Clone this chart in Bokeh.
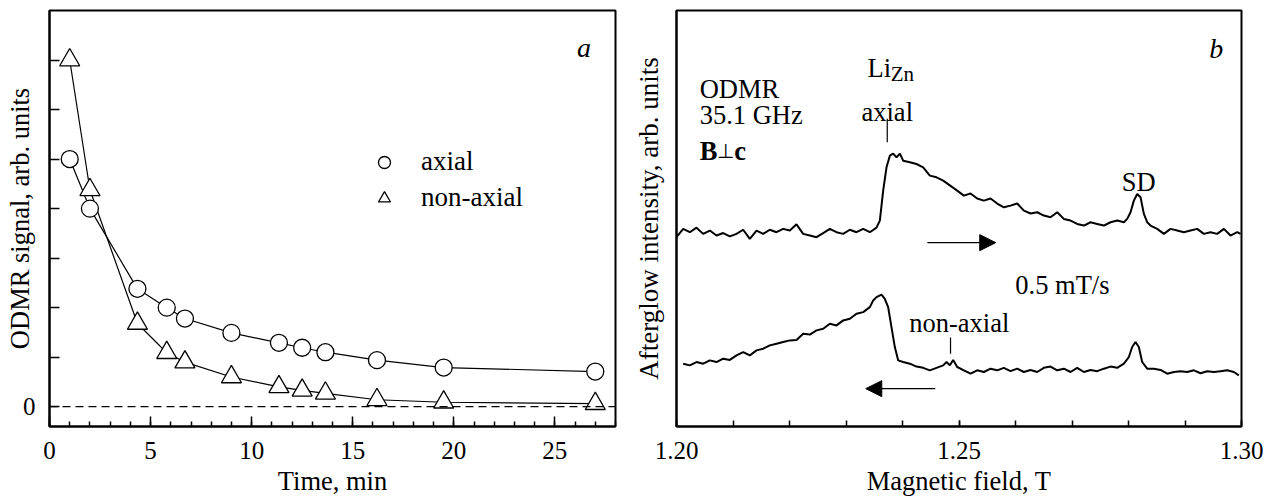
from bokeh.plotting import figure
from bokeh.layouts import row
from bokeh.models import (Range1d, FixedTicker, Span, Label, Arrow, NormalHead,
                          Legend, LegendItem, NumeralTickFormatter)
from bokeh.embed import file_html
from bokeh.resources import INLINE

FONT = "Liberation Serif"

# ---------------- panel a data ----------------
time_min = [1.0, 2.0, 4.35, 5.8, 6.7, 9.0, 11.35, 12.5, 13.65, 16.2, 19.5, 27.0]
axial = [5.0, 4.0, 2.38, 2.0, 1.78, 1.49, 1.29, 1.19, 1.10, 0.94, 0.79, 0.71]
non_axial = [7.0, 4.38, 1.68, 1.09, 0.90, 0.60, 0.40, 0.33, 0.27, 0.14, 0.09, 0.06]
time_ticks = [0, 5, 10, 15, 20, 25]
time_minor = list(range(0, 29))
signal_ticks = [0, 1, 2, 3, 4, 5, 6, 7]

# ---------------- panel b data (field in mT, intensity arb. units) ----------------
up_field = [1200.00, 1201.18, 1202.36, 1203.54, 1204.72, 1205.90, 1207.08, 1208.26, 1209.44, 1210.62,
            1211.80, 1212.98, 1214.16, 1215.34, 1216.52, 1217.70, 1218.88, 1220.06, 1221.24, 1222.42,
            1223.60, 1224.78, 1225.96, 1227.14, 1228.32, 1229.50, 1230.68, 1231.86, 1233.04, 1234.22,
            1235.40, 1235.99, 1236.58, 1237.17, 1237.76, 1238.35, 1238.94, 1239.53, 1240.12, 1241.30,
            1242.48, 1243.66, 1244.84, 1246.02, 1247.20, 1249.68, 1250.86, 1252.04, 1253.22, 1254.40,
            1255.58, 1256.76, 1257.94, 1259.12, 1260.30, 1261.48, 1262.66, 1263.84, 1265.02, 1266.20,
            1267.38, 1268.56, 1269.74, 1270.92, 1272.10, 1273.28, 1274.46, 1275.64, 1276.82, 1278.00,
            1279.18, 1279.77, 1280.36, 1280.95, 1281.54, 1282.13, 1282.72, 1283.31, 1283.90, 1285.08,
            1286.26, 1287.44, 1288.62, 1289.80, 1290.98, 1292.16, 1293.34, 1294.52, 1295.70, 1296.88,
            1298.06, 1299.24, 1299.83]
up_int = [45.5, 47.5, 46.7, 47.8, 46.3, 47.1, 45.9, 46.5, 45.7, 46.3,
          47.3, 45.1, 47.1, 46.3, 47.3, 46.7, 47.5, 47.1, 48.6, 46.3,
          45.9, 45.5, 46.5, 47.5, 46.7, 46.3, 47.3, 46.7, 47.5, 46.7,
          47.8, 49.5, 56.7, 62.3, 65.1, 65.6, 64.7, 65.6, 63.9, 63.5,
          63.1, 62.3, 60.3, 59.9, 59.1, 56.7, 55.5, 56.0, 54.8, 54.3,
          54.8, 53.6, 52.7, 53.1, 53.6, 51.9, 51.2, 51.5, 50.7, 50.3,
          51.5, 49.9, 49.5, 48.7, 48.3, 49.1, 48.7, 48.3, 49.1, 49.5,
          49.1, 49.9, 51.5, 54.3, 55.9, 55.1, 51.1, 49.1, 48.3, 47.5,
          46.3, 47.5, 47.1, 46.7, 47.1, 47.5, 46.3, 46.7, 46.3, 47.5,
          45.9, 46.7, 46.3]

low_field = [1201.18, 1202.36, 1203.54, 1204.72, 1205.90, 1207.08, 1208.26, 1209.44, 1210.62, 1211.80,
             1212.98, 1214.16, 1215.34, 1216.52, 1217.70, 1218.88, 1220.06, 1221.24, 1222.42, 1223.60,
             1224.78, 1225.96, 1227.14, 1228.32, 1229.50, 1230.68, 1231.86, 1233.04, 1234.22, 1234.81,
             1235.40, 1236.28, 1236.87, 1237.46, 1238.05, 1238.64, 1239.23, 1240.12, 1241.30, 1242.48,
             1243.66, 1244.84, 1246.02, 1247.20, 1247.79, 1248.38, 1248.97, 1249.68, 1250.86, 1252.04,
             1253.22, 1254.40, 1255.58, 1256.76, 1257.94, 1259.12, 1260.30, 1261.48, 1262.66, 1263.84,
             1265.02, 1266.20, 1267.38, 1268.56, 1269.74, 1270.92, 1272.10, 1273.28, 1274.46, 1275.64,
             1276.82, 1278.00, 1279.18, 1280.06, 1280.65, 1281.24, 1281.83, 1282.42, 1283.31, 1284.49,
             1285.67, 1286.85, 1288.03, 1289.21, 1290.39, 1291.57, 1292.75, 1293.93, 1295.11, 1296.29,
             1297.47, 1298.65, 1299.53]
low_int = [15.1, 14.7, 15.5, 15.1, 15.9, 15.5, 16.3, 16.0, 17.1, 17.9,
           17.1, 18.3, 18.7, 19.5, 19.9, 20.3, 20.7, 20.8, 22.3, 22.1,
           23.1, 23.5, 24.7, 24.3, 25.5, 25.9, 27.1, 27.5, 28.7, 30.3,
           31.1, 31.7, 30.7, 28.7, 23.9, 19.1, 15.9, 15.5, 15.1, 14.4,
           14.1, 13.5, 14.1, 14.7, 15.5, 14.7, 16.0, 14.3, 13.5, 12.7,
           13.5, 13.1, 13.9, 13.5, 14.1, 13.3, 13.9, 13.1, 13.6, 13.1,
           14.1, 14.4, 13.5, 13.9, 13.1, 14.1, 13.1, 13.6, 13.3, 13.9,
           14.4, 14.1, 15.1, 16.7, 19.1, 20.3, 19.1, 15.5, 13.9, 13.9,
           13.6, 12.7, 13.1, 13.3, 13.1, 13.5, 12.8, 13.3, 13.1, 13.3,
           13.5, 13.1, 12.3]
field_ticks = [1.20, 1.25, 1.30]
field_minor = [1.20, 1.21, 1.22, 1.23, 1.24, 1.25, 1.26, 1.27, 1.28, 1.29, 1.30]

up_T = [f / 1000.0 for f in up_field]
low_T = [f / 1000.0 for f in low_field]


def style_axis(ax, label_size="26px"):
    ax.axis_line_width = 2
    ax.axis_line_color = "black"
    ax.major_tick_line_color = "black"
    ax.minor_tick_line_color = "black"
    ax.major_tick_line_width = 1.5
    ax.minor_tick_line_width = 1.5
    ax.major_tick_out = 0
    ax.minor_tick_out = 0
    ax.major_label_text_font = FONT
    ax.major_label_text_font_size = "25px"
    ax.major_label_text_color = "black"
    ax.axis_label_text_font = FONT
    ax.axis_label_text_font_size = label_size
    ax.axis_label_text_font_style = "normal"
    ax.axis_label_text_color = "black"


def style_fig(p):
    p.xgrid.grid_line_color = None
    p.ygrid.grid_line_color = None
    p.outline_line_color = "black"
    p.outline_line_width = 2
    p.outline_line_alpha = 1.0
    p.background_fill_color = "white"
    p.border_fill_color = "white"


# ---------------- panel a ----------------
pa = figure(frame_width=566, frame_height=416, x_range=Range1d(0, 28), y_range=Range1d(-0.4, 8.0),
            output_backend="svg", toolbar_location=None,
            min_border_left=49, min_border_right=11, min_border_top=10, min_border_bottom=71)
style_fig(pa)
style_axis(pa.xaxis[0], label_size="26.5px")
style_axis(pa.yaxis[0], label_size="26.5px")
pa.xaxis.ticker = FixedTicker(ticks=time_ticks, minor_ticks=time_minor)
pa.xaxis.major_tick_in = 10
pa.xaxis.minor_tick_in = 5
pa.xaxis.major_label_standoff = 15
pa.xaxis.axis_label = "Time, min"
pa.xaxis.axis_label_standoff = 4
pa.yaxis.ticker = FixedTicker(ticks=signal_ticks)
pa.yaxis.major_label_overrides = {t: ("0" if t == 0 else "") for t in signal_ticks}
pa.yaxis.major_tick_in = 10
pa.yaxis.minor_tick_line_color = None
pa.yaxis.major_label_standoff = 14
pa.yaxis.axis_label = "ODMR signal, arb. units"
pa.yaxis.axis_label_standoff = -15

pa.add_layout(Span(location=0, dimension="width", line_color="black", line_width=1.2,
                   line_dash="8 5"))

pa.line(time_min, axial, line_color="black", line_width=1.2)
pa.line(time_min, non_axial, line_color="black", line_width=1.2)
r_ax = pa.scatter(time_min, axial, marker="circle", size=17, fill_color="white",
                  line_color="black", line_width=1.3)
r_na = pa.scatter(time_min, non_axial, marker="triangle", size=20, fill_color="white",
                  line_color="black", line_width=1.3)

legend = Legend(items=[LegendItem(label="axial", renderers=[r_ax]),
                       LegendItem(label="non-axial", renderers=[r_na])],
                location=(319, 213), border_line_color=None, background_fill_alpha=0,
                padding=0, margin=0, spacing=5, glyph_width=32, glyph_height=30,
                label_standoff=21, label_text_font=FONT, label_text_font_size="27px",
                label_text_color="black")
pa.add_layout(legend)

pa.add_layout(Label(x=26.1, y=7.25, text="a", text_font=FONT, text_font_size="28px",
                    text_font_style="italic", text_color="black", text_baseline="alphabetic"))

# ---------------- panel b ----------------
pb = figure(frame_width=565, frame_height=416, x_range=Range1d(1.2, 1.3), y_range=Range1d(0, 100),
            output_backend="svg", toolbar_location=None,
            min_border_left=50, min_border_right=25, min_border_top=10, min_border_bottom=71)
style_fig(pb)
style_axis(pb.xaxis[0], label_size="26.5px")
style_axis(pb.yaxis[0], label_size="27px")
pb.xaxis.ticker = FixedTicker(ticks=field_ticks, minor_ticks=field_minor)
pb.xaxis.formatter = NumeralTickFormatter(format="0.00")
pb.xaxis.major_tick_in = 6
pb.xaxis.minor_tick_in = 6
pb.xaxis.major_label_standoff = 15
pb.xaxis.axis_label = "Magnetic field, T"
pb.xaxis.axis_label_standoff = 4
pb.yaxis.ticker = FixedTicker(ticks=[])
pb.yaxis.major_tick_line_color = None
pb.yaxis.minor_tick_line_color = None
pb.yaxis.major_label_standoff = 0
pb.yaxis.axis_label = "Afterglow intensity, arb. units"
pb.yaxis.axis_label_standoff = 13

pb.line(up_T, up_int, line_color="black", line_width=2)
pb.line(low_T, low_int, line_color="black", line_width=2)

# marker ticks for the lines
pb.segment(x0=[1.2373, 1.2485], y0=[68.3, 17.5], x1=[1.2373, 1.2485], y1=[74.0, 21.4],
           line_color="black", line_width=1.2)

head1 = NormalHead(size=16, fill_color="black", line_color="black")
head2 = NormalHead(size=16, fill_color="black", line_color="black")
pb.add_layout(Arrow(end=head1, x_start=1.2444, y_start=44.2, x_end=1.2565, y_end=44.2,
                    line_color="black", line_width=1.3))
pb.add_layout(Arrow(end=head2, x_start=1.2458, y_start=9.1, x_end=1.2335, y_end=9.1,
                    line_color="black", line_width=1.3))


def lab(x, y, text, size="26.5px", align="left", style="normal"):
    pb.add_layout(Label(x=x, y=y, text=text, text_font=FONT, text_font_size=size,
                        text_font_style=style, text_color="black", text_align=align,
                        text_baseline="alphabetic"))


lab(1.2041, 81.25, "ODMR")
lab(1.2041, 74.8, "35.1 GHz")
lab(1.2041, 66.3, "B", style="bold")
lab(1.2072, 66.3, "\u22a5", size="20px")
lab(1.2102, 66.3, "c", style="bold")
lab(1.2338, 86.1, "Li")
lab(1.2379, 84.7, "Zn", size="21px")
lab(1.2373, 75.5, "axial", align="center")
lab(1.2818, 58.7, "SD", align="center")
lab(1.2683, 33.9, "0.5 mT/s", align="center")
lab(1.2412, 25.0, "non-axial")
lab(1.2943, 90.9, "b", size="28px", style="italic")

layout = row(pa, pb)
open("out.html", "w").write(file_html(layout, INLINE))
